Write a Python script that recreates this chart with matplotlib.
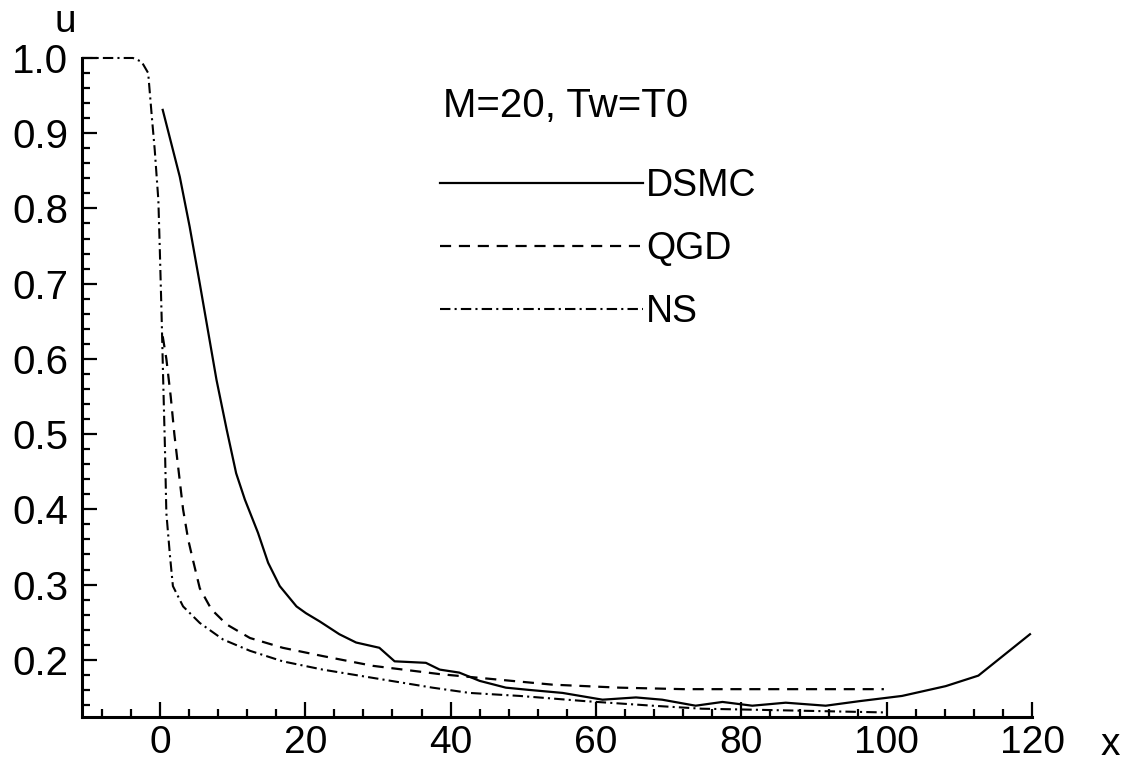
import matplotlib
matplotlib.use("Agg")
import matplotlib.pyplot as plt
from matplotlib.ticker import MultipleLocator, FormatStrFormatter

plt.rcParams['font.family'] = ['Liberation Sans', 'DejaVu Sans']

# data
dsmc_x = [0.4, 2.75, 4.1, 5.5, 7.8, 9.2, 10.5, 11.7, 13.5, 14.9, 16.5, 18.8, 20.1,
          22.0, 24.7, 27.0, 30.2, 32.3, 36.6, 38.5, 41.2, 44.0, 47.6, 50.8, 55.4,
          60.9, 65.5, 69.1, 73.7, 77.4, 81.5, 86.1, 91.6, 96.2, 102.1, 108.1, 112.6, 119.7]
dsmc_u = [0.931, 0.842, 0.776, 0.700, 0.572, 0.506, 0.448, 0.413, 0.369, 0.329, 0.298,
          0.271, 0.262, 0.251, 0.234, 0.223, 0.216, 0.198, 0.196, 0.187, 0.183, 0.172,
          0.163, 0.160, 0.156, 0.147, 0.150, 0.147, 0.139, 0.144, 0.139, 0.143, 0.139,
          0.145, 0.152, 0.165, 0.179, 0.234]

qgd_x = [0.4, 0.9, 1.5, 2.0, 2.6, 3.2, 3.9, 4.5, 5.5, 7.1, 9.2, 12.4, 16.9, 22.4,
         29.3, 38.5, 46.2, 54.0, 63.2, 72.0, 80.0, 90.0, 99.6]
qgd_u = [0.630, 0.600, 0.550, 0.500, 0.450, 0.400, 0.360, 0.335, 0.295, 0.267, 0.247,
         0.229, 0.216, 0.205, 0.192, 0.181, 0.174, 0.167, 0.163, 0.161, 0.161, 0.161, 0.161]

ns_x = [-10.7, -3.7, -2.5, -1.6, -1.1, -0.7, -0.2, 0.0, 0.25, 0.45, 0.7, 0.9, 1.4, 1.8,
        3.2, 5.5, 8.7, 12.4, 16.9, 22.4, 29.3, 37.5, 42.6, 49.5, 58.6, 67.8, 74.6,
        80.0, 90.0, 100.0]
ns_u = [1.0, 1.0, 0.995, 0.980, 0.922, 0.878, 0.811, 0.745, 0.656, 0.577, 0.484, 0.395,
        0.338, 0.298, 0.271, 0.249, 0.227, 0.212, 0.198, 0.187, 0.176, 0.163, 0.156,
        0.152, 0.145, 0.139, 0.135, 0.134, 0.132, 0.130]

fig = plt.figure(figsize=(11.33, 7.67), dpi=100)
ax = fig.add_axes([0.0724, 0.0652, 0.8386, 0.8592])

ax.plot(dsmc_x, dsmc_u, color='black', lw=1.6, label='DSMC')
ax.plot(qgd_x, qgd_u, color='black', lw=1.6, dashes=(5, 3.5), label='QGD')
ax.plot(ns_x, ns_u, color='black', lw=1.5, dashes=(5, 2, 1, 2), label='NS', clip_on=False)

ax.set_xlim(-10.7, 120.0)
ax.set_ylim(0.124, 1.0)

ax.xaxis.set_major_locator(MultipleLocator(20))
ax.xaxis.set_minor_locator(MultipleLocator(4))
ax.yaxis.set_major_locator(MultipleLocator(0.1))
ax.yaxis.set_minor_locator(MultipleLocator(0.02))
ax.yaxis.set_major_formatter(FormatStrFormatter('%.1f'))

for s in ['top', 'right']:
    ax.spines[s].set_visible(False)
for s in ['left', 'bottom']:
    ax.spines[s].set_linewidth(2.2)

ax.tick_params(which='major', direction='in', length=11, width=1.6, labelsize=29)
ax.tick_params(axis='y', which='major', pad=10)
ax.tick_params(axis='x', which='major', pad=6, labelsize=28)
ax.tick_params(which='minor', direction='in', length=5.5, width=1.6)

fig.text(65 / 1133, 1 - 22 / 767, 'u', fontsize=28, ha='center', va='center')
fig.text(1110 / 1133, 1 - 745 / 767, 'x', fontsize=28, ha='center', va='center')
fig.text(443 / 1133, 1 - 106 / 767, 'M=20, Tw=T0', fontsize=29, ha='left', va='center')

leg = ax.legend(loc='upper left', bbox_to_anchor=(440 / 1133, 1 - 168 / 767),
                bbox_transform=fig.transFigure, frameon=False, fontsize=27,
                handlelength=5.4, handletextpad=0.1, labelspacing=0.72,
                borderpad=0, borderaxespad=0)

fig.savefig('out.png', dpi=100)
